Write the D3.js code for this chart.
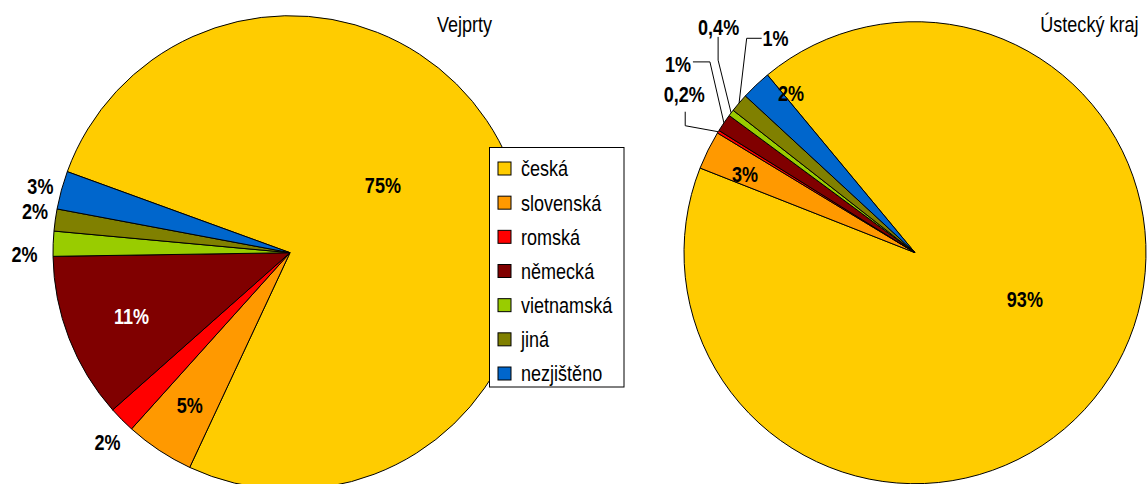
<!DOCTYPE html>
<html>
<head>
<meta charset="utf-8">
<script src="https://cdn.jsdelivr.net/npm/d3@7"></script>
<style>
  body { margin: 0; background: #fff; }
  svg text { font-family: "Liberation Sans", Arial, sans-serif; }
</style>
</head>
<body>
<div id="chart"></div>
<script>
// categories and colours
const categories = ['česká', 'slovenská', 'romská', 'německá', 'vietnamská', 'jiná', 'nezjištěno']
const colors = ['#FFCC00', '#FF9900', '#FF0000', '#800000', '#99CC00', '#808000', '#0066CC']

// Vejprty (percent)
const vejprtyValues = [76.4, 4.7, 1.8, 11.3, 1.7, 1.5, 2.6]
const vejprtyLabels = ['75%', '5%', '2%', '11%', '2%', '2%', '3%']

// Ústecký kraj (percent)
const ustiValues = [92.0, 2.7, 0.2, 1.25, 0.45, 1.3, 2.1]
const ustiLabels = ['93%', '3%', '0,2%', '1%', '0,4%', '1%', '2%']

const width = 1147
const height = 484
const narrow = 0.82 // the original uses a narrow face

const svg = d3
  .select('#chart')
  .append('svg')
  .attr('width', width)
  .attr('height', height)

// text squeezed horizontally to imitate Arial Narrow
function addText(parent, x, y, str) {
  return parent
    .append('text')
    .attr('transform', `translate(${x},${y}) scale(${narrow},1)`)
    .attr('font-size', 22)
    .text(str)
}

// label placement: k = radius factor, dA = angle shift (deg)
const leftLayout = [
  { k: 0.485, dA: -13.6 },
  { k: 0.77, dA: -0.2 },
  { k: 1.11, dA: -1.3 },
  { k: 0.72, dA: -0.5, color: '#fff' },
  { k: 1.12, dA: -2.5 },
  { k: 1.09, dA: 1.4 },
  { k: 1.09, dA: -0.4 },
]

// leader labels: text offset and polyline offsets relative to the arc point
const rightLayout = [
  { k: 0.516, dA: -13.1 },
  { k: 0.81, dA: -1.6 },
  { leader: true, text: [-34, -38], line: [[-33, -20], [-33, -6]] },
  { leader: true, text: [-46, -59], line: [[-31, -61], [-14, -61]] },
  { leader: true, text: [-12.5, -85.5], line: [[-13, -76], [-13, -52.7]] },
  { leader: true, text: [36.4, -64.7], line: [[22.6, -64.7], [7.6, -64.7]] },
  { k: 0.874, dA: 5.6 },
]

const rad = d => (d * Math.PI) / 180

function drawPie(values, labels, layout, cx, cy, r, startDeg) {
  const pie = d3
    .pie()
    .sort(null)
    .startAngle(rad(startDeg))
    .endAngle(rad(startDeg) + Math.PI * 2)

  const arcs = pie(values)
  const arc = d3.arc().innerRadius(0).outerRadius(r)

  const g = svg.append('g').attr('transform', `translate(${cx},${cy})`)

  g.selectAll('path')
    .data(arcs)
    .join('path')
    .attr('d', arc)
    .attr('fill', (d, i) => colors[i])
    .attr('stroke', '#000')
    .attr('stroke-width', 1)
    .attr('stroke-linejoin', 'round')

  const polar = (a, rr) => [rr * Math.sin(a), -rr * Math.cos(a)]

  arcs.forEach((d, i) => {
    const lay = layout[i]
    const mid = (d.startAngle + d.endAngle) / 2
    let pos
    if (lay.leader) {
      const p = polar(mid, r)
      pos = [p[0] + lay.text[0], p[1] + lay.text[1]]
      const pts = lay.line.map(o => [p[0] + o[0], p[1] + o[1]]).concat([p])
      g.append('path')
        .attr('d', d3.line()(pts))
        .attr('fill', 'none')
        .attr('stroke', '#000')
        .attr('stroke-width', 1)
    } else {
      pos = polar(mid + rad(lay.dA), r * lay.k)
    }
    addText(g, pos[0], pos[1], labels[i])
      .attr('dy', '0.36em')
      .attr('text-anchor', 'middle')
      .attr('font-weight', 'bold')
      .attr('fill', lay.color || '#000')
  })
}

drawPie(vejprtyValues, vejprtyLabels, leftLayout, 290, 252.7, 237, 290)
drawPie(ustiValues, ustiLabels, rightLayout, 915, 252.7, 231, 320.3)

// titles
addText(svg, 437, 31.7, 'Vejprty')
addText(svg, 1138.5, 31.7, 'Ústecký kraj').attr('text-anchor', 'end')

// legend
const legend = svg.append('g').attr('transform', 'translate(489.5,147.5)')

legend.append('rect')
  .attr('width', 134.5)
  .attr('height', 239.5)
  .attr('fill', '#fff')
  .attr('stroke', '#000')
  .attr('stroke-width', 1)

const rowY = d3.scaleLinear().domain([0, categories.length - 1]).range([21, 226])

const items = legend
  .selectAll('g.item')
  .data(categories)
  .join('g')
  .attr('class', 'item')
  .attr('transform', (d, i) => `translate(0,${rowY(i)})`)

items.append('rect')
  .attr('x', 8.5)
  .attr('y', -6.5)
  .attr('width', 13)
  .attr('height', 13)
  .attr('fill', (d, i) => colors[i])
  .attr('stroke', '#000')
  .attr('stroke-width', 1)

items.each(function (d) {
  addText(d3.select(this), 31.5, 0, d).attr('dy', '0.36em')
})
</script>
</body>
</html>
